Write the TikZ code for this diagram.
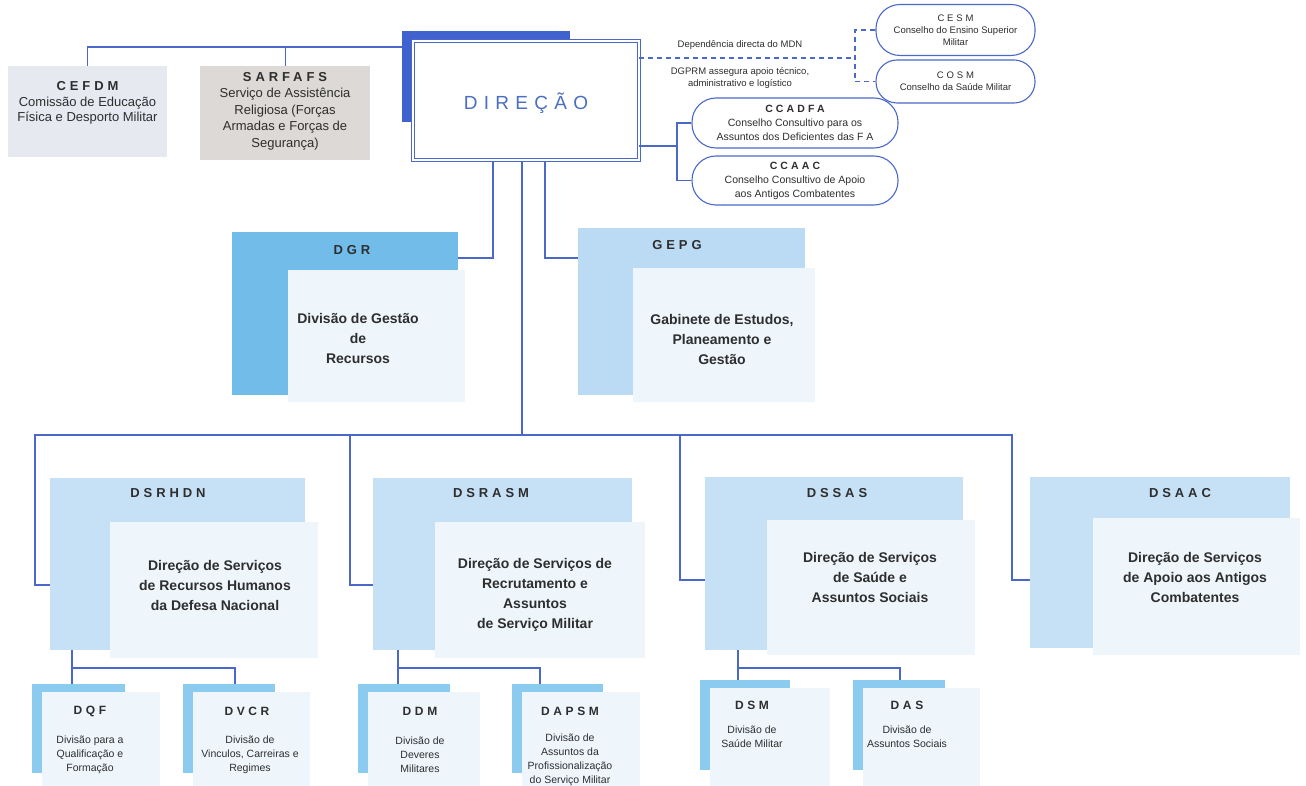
\documentclass[tikz,border=0pt]{standalone}
\usepackage{fontspec}
\setmainfont{Liberation Sans}
\newfontfamily\spaced[LetterSpace=30]{Liberation Sans}
\newfontfamily\widespaced[LetterSpace=33]{Liberation Sans}
\definecolor{linec}{HTML}{4A68C8}
\definecolor{dirshade}{HTML}{3F62CF}
\definecolor{dirtext}{HTML}{4A6EC2}
\definecolor{txtc}{HTML}{2E2E2E}
\definecolor{cefdmc}{HTML}{E7E9F1}
\definecolor{sarfc}{HTML}{DCD9D7}
\definecolor{dgrc}{HTML}{72BCEA}
\definecolor{gepgc}{HTML}{BBDBF4}
\definecolor{bigc}{HTML}{C6E0F5}
\definecolor{subc}{HTML}{8CCBF0}
\definecolor{panelc}{HTML}{EEF6FC}
\begin{document}
\begin{tikzpicture}[x=1pt,y=-1pt,
    link/.style={draw=linec, line width=1.3pt},
    dashlink/.style={draw=linec, line width=1.2pt, dash pattern=on 5pt off 4pt},
    bar/.style={inner sep=0pt, anchor=north west},
    pill/.style={draw=linec, line width=1.1pt, fill=white, inner sep=0pt},
    title/.style={font=\spaced\bfseries\fontsize{13}{15}\selectfont, text=txtc},
    body/.style={font=\bfseries\fontsize{14}{20}\selectfont, text=txtc, align=center},
    subtitle/.style={font=\spaced\bfseries\fontsize{12}{14}\selectfont, text=txtc},
    small/.style={font=\fontsize{10.5}{14}\selectfont, text=txtc, align=center},
    tiny/.style={font=\fontsize{9.5}{12}\selectfont, text=txtc, align=center}]
    \useasboundingbox (0,0) rectangle (1306,786);

    % top left boxes
    \node[bar, fill=cefdmc, minimum width=159pt, minimum height=91pt] (cefdm) at (8,66) {};
    \node[small, font=\fontsize{13}{15.5}\selectfont] (cefdmt) at (87.5,103) {{\spaced\bfseries CEFDM}\\Comissão de Educação\\Física e Desporto Militar};
    \node[bar, fill=sarfc, minimum width=170pt, minimum height=94pt] (sarf) at (200,66) {};
    \node[small, font=\fontsize{13}{16.5}\selectfont] (sarft) at (285,111) {{\spaced\bfseries SARFAFS}\\Serviço de Assistência\\Religiosa (Forças\\Armadas e Forças de\\Segurança)};

    % direcao
    \fill[dirshade] (402,31) rectangle (570,122);
    \node[bar, draw=linec, double=white, double distance=2pt, line width=1pt, fill=white,
        minimum width=226pt, minimum height=119pt] (dir) at (412,41) {};
    \node[font=\widespaced\fontsize{19}{22}\selectfont, text=dirtext] (dirt) at (526,103) {DIREÇÃO};
    \coordinate (topbus) at (402,47);
    \draw[link] (cefdm.north) |- (topbus);
    \draw[link] (sarf.north) -- (sarf.north |- topbus);

    % conselhos
    \node[pill, rounded corners=24pt, minimum width=159pt, minimum height=51pt] (cesm) at (955.5,30) {};
    \node[tiny] (cesmt) at (cesm) {{\spaced CESM}\\Conselho do Ensino Superior\\Militar};
    \node[pill, rounded corners=21pt, minimum width=159pt, minimum height=43pt] (cosm) at (955.5,81.5) {};
    \node[tiny] (cosmt) at (cosm) {{\spaced COSM}\\Conselho da Saúde Militar};
    \node[tiny] (mdn) at (740,45) {Dependência directa do MDN};
    \node[tiny] (dgprm) at (740,78) {DGPRM assegura apoio técnico,\\administrativo e logístico};
    \coordinate (dash) at (855,58);
    \draw[dashlink] (dir.east |- dash) -- (dash) (cesm.west) -| (dash) |- (cosm.west);

    \node[pill, rounded corners=24pt, minimum width=206pt, minimum height=50pt] (ccadfa) at (795,123) {};
    \node[small] (ccadfat) at (ccadfa) {{\spaced\bfseries CCADFA}\\Conselho Consultivo para os\\Assuntos dos Deficientes das F A};
    \node[pill, rounded corners=24pt, minimum width=206pt, minimum height=49pt] (ccaac) at (795,180.5) {};
    \node[small] (ccaact) at (ccaac) {{\spaced\bfseries CCAAC}\\Conselho Consultivo de Apoio\\aos Antigos Combatentes};
    \coordinate (ccfork) at (677,146);
    \draw[link] (dir.east |- ccfork) -- (ccfork);
    \draw[link] (ccadfa.west) -| (ccfork) |- (ccaac.west);

    % gabinetes
    \node[bar, fill=dgrc, minimum width=226pt, minimum height=163pt] (dgr) at (232,232) {};
    \fill[panelc] (288,270) rectangle (465,402);
    \node[title] (dgrt) at (352,250) {DGR};
    \node[body] (dgrb) at (358,338) {Divisão de Gestão\\de\\Recursos};
    \node[bar, fill=gepgc, minimum width=227pt, minimum height=167pt] (gepg) at (578,228) {};
    \fill[panelc] (633,268) rectangle (815,402);
    \node[title] (gepgt) at (677,245) {GEPG};
    \node[body] (gepgb) at (722,339) {Gabinete de Estudos,\\Planeamento e\\Gestão};
    \coordinate (dgrk) at (493,258);
    \coordinate (gepgk) at (545,258);
    \draw[link] (dir.south -| dgrk) |- (dgr.east |- dgrk);
    \draw[link] (dir.south -| gepgk) |- (gepg.west |- gepgk);

    % direcoes de servicos
    \node[bar, fill=bigc, minimum width=255pt, minimum height=172pt] (dsrhdn) at (50,478) {};
    \fill[panelc] (110,522) rectangle (318,658);
    \node[title] (dsrhdnt) at (168,493) {DSRHDN};
    \node[body] (dsrhdnb) at (215,585) {Direção de Serviços\\de Recursos Humanos\\da Defesa Nacional};
    \node[bar, fill=bigc, minimum width=259pt, minimum height=172pt] (dsrasm) at (373,478) {};
    \fill[panelc] (435,522) rectangle (645,658);
    \node[title] (dsrasmt) at (491,493) {DSRASM};
    \node[body] (dsrasmb) at (535,595) {Direção de Serviços de\\Recrutamento e\\Assuntos\\de Serviço Militar};
    \node[bar, fill=bigc, minimum width=258pt, minimum height=173pt] (dssas) at (705,477) {};
    \fill[panelc] (767,520) rectangle (975,655);
    \node[title] (dssast) at (837,493) {DSSAS};
    \node[body] (dssasb) at (870,577) {Direção de Serviços\\de Saúde e\\Assuntos Sociais};
    \node[bar, fill=bigc, minimum width=260pt, minimum height=171pt] (dsaac) at (1030,477) {};
    \fill[panelc] (1093,518) rectangle (1300,655);
    \node[title] (dsaact) at (1180,493) {DSAAC};
    \node[body] (dsaacb) at (1195,577) {Direção de Serviços\\de Apoio aos Antigos\\Combatentes};

    \coordinate (bus) at (522,435);
    \coordinate (d1) at (35,585);
    \coordinate (d2) at (350,585);
    \coordinate (d3) at (680,580);
    \coordinate (d4) at (1012,580);
    \draw[link] (dir.south -| bus) -- (bus);
    \draw[link] (bus) -| (d1) -- (d1 -| dsrhdn.west);
    \draw[link] (bus) -| (d2) -- (d2 -| dsrasm.west);
    \draw[link] (bus) -| (d3) -- (d3 -| dssas.west);
    \draw[link] (bus) -| (d4) -- (d4 -| dsaac.west);

    % divisoes
    \fill[panelc] (42,692) rectangle (160,786);
    \fill[subc] (32,684) rectangle (42,773);
    \node[bar, fill=subc, minimum width=93pt, minimum height=8pt] (dqf) at (32,684) {};
    \node[subtitle] (dqft) at (90,711) {DQF};
    \node[small] (dqfb) at (90,755) {Divisão para a\\Qualificação e\\Formação};
    \fill[panelc] (193,692) rectangle (310,786);
    \fill[subc] (183,684) rectangle (193,773);
    \node[bar, fill=subc, minimum width=92pt, minimum height=8pt] (dvcr) at (183,684) {};
    \node[subtitle] (dvcrt) at (247,711) {DVCR};
    \node[small] (dvcrb) at (250,755) {Divisão de\\Vinculos, Carreiras e\\Regimes};
    \fill[panelc] (368,692) rectangle (480,786);
    \fill[subc] (358,684) rectangle (368,773);
    \node[bar, fill=subc, minimum width=92pt, minimum height=8pt] (ddm) at (358,684) {};
    \node[subtitle] (ddmt) at (420,711) {DDM};
    \node[small] (ddmb) at (420,755) {Divisão de\\Deveres\\Militares};
    \fill[panelc] (522,692) rectangle (640,786);
    \fill[subc] (512,684) rectangle (522,773);
    \node[bar, fill=subc, minimum width=91pt, minimum height=8pt] (dapsm) at (512,684) {};
    \node[subtitle] (dapsmt) at (570,711) {DAPSM};
    \node[small] (dapsmb) at (570,760) {Divisão de\\Assuntos da\\Profissionalização\\do Serviço Militar};
    \fill[panelc] (710,688) rectangle (830,786);
    \fill[subc] (700,680) rectangle (710,770);
    \node[bar, fill=subc, minimum width=90pt, minimum height=8pt] (dsm) at (700,680) {};
    \node[subtitle] (dsmt) at (752,705) {DSM};
    \node[small] (dsmb) at (752,737) {Divisão de\\Saúde Militar};
    \fill[panelc] (863,688) rectangle (980,786);
    \fill[subc] (853,680) rectangle (863,770);
    \node[bar, fill=subc, minimum width=92pt, minimum height=8pt] (das) at (853,680) {};
    \node[subtitle] (dast) at (907,705) {DAS};
    \node[small] (dasb) at (907,737) {Divisão de\\Assuntos Sociais};

    \coordinate (k1) at (72,668);
    \coordinate (k2) at (235,668);
    \coordinate (k3) at (398,668);
    \coordinate (k4) at (540,668);
    \coordinate (k5) at (738,668);
    \coordinate (k6) at (900,668);
    \draw[link] (dsrhdn.south -| k1) -- (k1) -- (k2) -- (dvcr.north -| k2);
    \draw[link] (k1) -- (dqf.north -| k1);
    \draw[link] (dsrasm.south -| k3) -- (k3) -- (k4) -- (dapsm.north -| k4);
    \draw[link] (k3) -- (ddm.north -| k3);
    \draw[link] (dssas.south -| k5) -- (k5) -- (k6) -- (das.north -| k6);
    \draw[link] (k5) -- (dsm.north -| k5);
\end{tikzpicture}
\end{document}
